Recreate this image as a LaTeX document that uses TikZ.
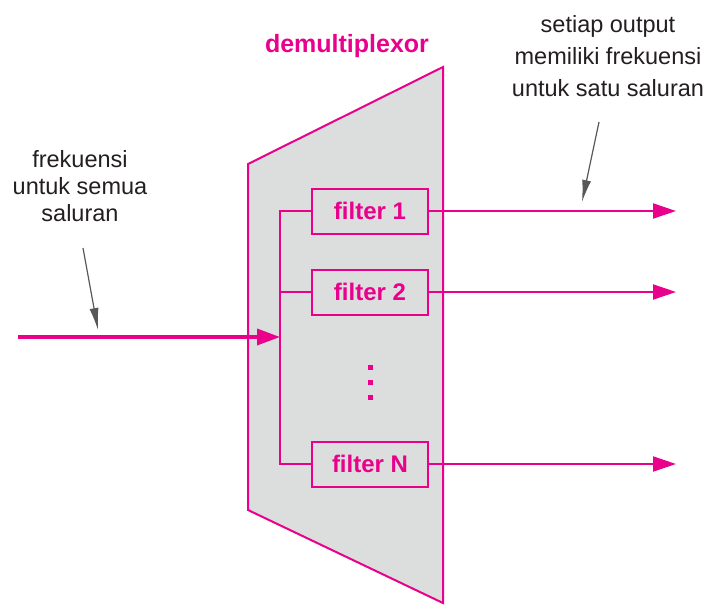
\documentclass[tikz,border=0pt]{standalone}
\usepackage{fontspec}
\setmainfont{Liberation Sans}
\usetikzlibrary{arrows.meta,calc}
\definecolor{pk}{RGB}{233,0,139}
\definecolor{boxgray}{RGB}{220,221,221}
\definecolor{txt}{RGB}{35,31,32}
\begin{document}
\begin{tikzpicture}[x=1pt,y=-1pt,
  filterbox/.style={draw=pk,line width=2pt,fill=boxgray,minimum width=116pt,minimum height=45pt,inner sep=0pt,font=\fontsize{24}{28}\selectfont\bfseries,text=pk},
  wire/.style={draw=pk,line width=2pt},
  outarrow/.style={wire,-{Triangle[length=23pt,width=15pt]}},
  inarrow/.style={draw=pk,line width=3.5pt,-{Triangle[length=23pt,width=16pt]}},
  pointer/.style={draw=txt!75,line width=1.2pt,-{Latex[length=22pt,width=9pt]}},
  note/.style={text=txt,font=\fontsize{23.5}{27}\selectfont,align=center},
  dotbox/.style={fill=pk,minimum size=5pt,inner sep=0pt},
  titletext/.style={text=pk,font=\fontsize{25}{30}\selectfont\bfseries}]
\useasboundingbox (0,0) rectangle (709,605);
% demultiplexor body
\draw[draw=pk,line width=2pt,fill=boxgray] (248,164) -- (443,67) -- (443,603) -- (248,510) -- cycle;
\node[titletext] (title) at (347,46) {demultiplexor};
% filters
\node[filterbox] (f1) at (370,211) {filter 1};
\node[filterbox] (f2) at (370,292) {filter 2};
\node[filterbox] (fN) at (370,464) {filter N};
\node[dotbox] (d1) at (370,367) {};
\node[dotbox] (d2) at (370,382) {};
\node[dotbox] (d3) at (370,397) {};
% bus
\coordinate (busT) at (280,211);
\coordinate (busB) at (280,464);
\draw[wire] (f1.west) -- (busT) -- (busB) -- (fN.west);
\draw[wire] (f2.west) -- (f2.west -| busT);
% input
\coordinate (inS) at (18,337);
\draw[inarrow] (inS) -- (inS -| busT);
% outputs
\coordinate (o1) at (676,211);
\coordinate (o2) at (676,292);
\coordinate (oN) at (676,464);
\draw[outarrow] (f1.east) -- (o1);
\draw[outarrow] (f2.east) -- (o2);
\draw[outarrow] (fN.east) -- (oN);
% notes
\node[note] (nin) at (80,186) {frekuensi\\untuk semua\\saluran};
\node[note,font=\fontsize{23.5}{32}\selectfont] (nout) at (608,56) {setiap output\\memiliki frekuensi\\untuk satu saluran};
\coordinate (p1s) at (83,248);
\coordinate (p1e) at (98,330);
\coordinate (p2s) at (599,122);
\coordinate (p2e) at (582,202);
\draw[pointer] (p1s) -- (p1e);
\draw[pointer] (p2s) -- (p2e);
\end{tikzpicture}
\end{document}
